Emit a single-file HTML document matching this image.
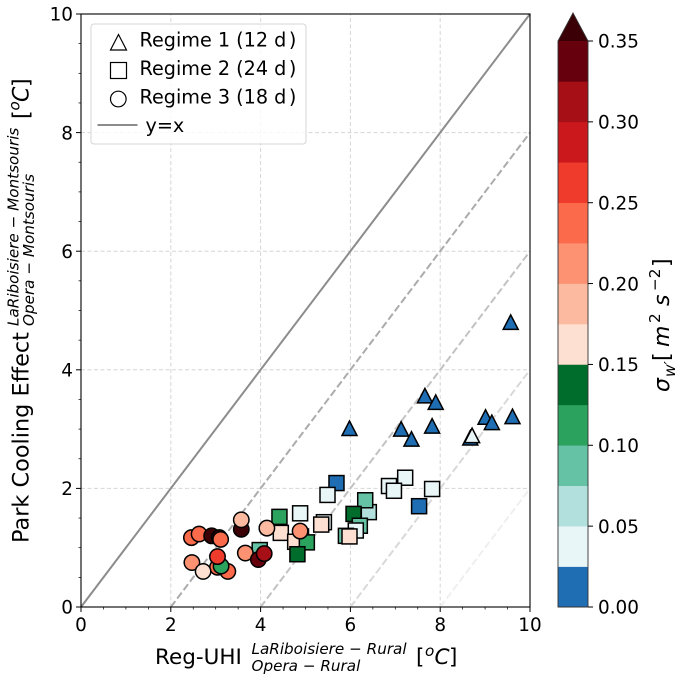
<!DOCTYPE html>
<html lang="en">
<head>
<meta charset="utf-8">
<title>Park Cooling Effect vs Reg-UHI</title>
<style>
html,body{margin:0;padding:0;background:#fff;width:679px;height:681px;overflow:hidden}
svg{display:block}
text{font-family:"DejaVu Sans","Liberation Sans",sans-serif;fill:#000}
.it{font-style:italic}
</style>
</head>
<body>
<svg id="chart" xmlns="http://www.w3.org/2000/svg" width="679" height="681" viewBox="0 0 679 681">
  <rect x="0" y="0" width="679" height="681" fill="#fff"/>
  <g id="grid"></g>
  <g id="refs"></g>
  <g id="marks"></g>
  <rect x="81" y="14" width="449" height="593" fill="none" stroke="#000" stroke-width="1.1"/>
  <g id="ticks"></g>

  <g>
    <rect x="91" y="24" width="215" height="120" rx="3" fill="#fff" fill-opacity="0.8" stroke="#d5d5d5" stroke-width="1"/>
    <polygon points="118.5,34.5 110.5,50 126.5,50" fill="none" stroke="#000" stroke-width="1.2"/>
    <text x="139.5" y="46.5" font-size="19.2">Regime 1 (12 d<tspan dx="2.5">)</tspan></text>
    <rect x="110.5" y="62.5" width="16" height="16" fill="none" stroke="#000" stroke-width="1.2"/>
    <text x="139.5" y="75" font-size="19.2">Regime 2 (24 d<tspan dx="2.5">)</tspan></text>
    <circle cx="118.3" cy="99" r="7.8" fill="none" stroke="#000" stroke-width="1.2"/>
    <text x="139.5" y="103.5" font-size="19.2">Regime 3 (18 d<tspan dx="2.5">)</tspan></text>
    <line x1="97.5" y1="125" x2="137.5" y2="125" stroke="#8c8c8c" stroke-width="2"/>
    <text x="145.5" y="132" font-size="19.2">y=x</text>
  </g>

  <g>
    <text x="155" y="664" font-size="21.5">Reg-UHI</text>
    <text class="it" x="251.5" y="654" font-size="15.2">LaRiboisiere − Rural</text>
    <text class="it" x="251.5" y="671" font-size="15.2">Opera − Rural</text>
    <text x="416" y="664" font-size="21.5">[</text>
    <text class="it" x="425" y="656" font-size="15.2">o</text>
    <text class="it" x="434.5" y="664" font-size="21.5">C</text>
    <text x="449" y="664" font-size="21.5">]</text>
  </g>

  <g>
    <text transform="translate(28.3,543) rotate(-90)" font-size="22.4">Park Cooling Effect</text>
    <text class="it" transform="translate(18.3,326) rotate(-90)" font-size="15.2">LaRiboisiere − Montsouris</text>
    <text class="it" transform="translate(34,326) rotate(-90)" font-size="15.2">Opera − Montsouris</text>
    <text transform="translate(28.3,119) rotate(-90)" font-size="22">[</text>
    <text class="it" transform="translate(19.5,110.5) rotate(-90)" font-size="15.2">o</text>
    <text class="it" transform="translate(28.3,102) rotate(-90)" font-size="22">C</text>
    <text transform="translate(28.3,87) rotate(-90)" font-size="22">]</text>
  </g>

  <g id="colorbar"></g>
  <g>
    <text class="it" transform="translate(669,392) rotate(-90)" font-size="22">σ</text>
    <text class="it" transform="translate(675,377) rotate(-90)" font-size="15.2">w′</text>
    <text transform="translate(669,361) rotate(-90)" font-size="22">[</text>
    <text class="it" transform="translate(669,347) rotate(-90)" font-size="22">m</text>
    <text transform="translate(660,323) rotate(-90)" font-size="15.2">2</text>
    <text class="it" transform="translate(669,306) rotate(-90)" font-size="22">s</text>
    <text transform="translate(660,291) rotate(-90)" font-size="15.2">−2</text>
    <text transform="translate(669,267) rotate(-90)" font-size="22">]</text>
  </g>
</svg>
<script>
// ---- Data ----
var regime1X = [9.57, 7.66, 7.90, 5.98, 7.13, 7.36, 7.82, 9.01, 9.15, 9.61, 8.67, 8.71];
var regime1Y = [4.80, 3.56, 3.45, 3.01, 3.00, 2.83, 3.05, 3.20, 3.11, 3.21, 2.85, 2.89];
var regime1S = [0.01, 0.01, 0.01, 0.01, 0.01, 0.01, 0.01, 0.01, 0.01, 0.01, 0.01, 0.04];

var regime2X = [5.69, 5.49, 6.86, 7.22, 6.97, 7.82, 7.53, 6.41, 6.33, 6.07, 6.21, 6.12, 5.90, 5.98, 5.41, 5.35, 4.88, 4.42, 4.45, 4.90, 4.77, 5.03, 4.82, 3.98];
var regime2Y = [2.09, 1.89, 2.04, 2.18, 1.96, 1.99, 1.70, 1.60, 1.80, 1.57, 1.37, 1.29, 1.20, 1.19, 1.43, 1.39, 1.58, 1.52, 1.25, 1.19, 1.10, 1.09, 0.89, 0.96];
var regime2S = [0.01, 0.04, 0.04, 0.04, 0.04, 0.04, 0.01, 0.06, 0.09, 0.14, 0.09, 0.04, 0.09, 0.16, 0.04, 0.16, 0.04, 0.11, 0.16, 0.09, 0.16, 0.11, 0.14, 0.09];

var regime3X = [2.46, 2.63, 2.91, 3.08, 3.11, 3.57, 3.57, 4.14, 4.88, 3.66, 3.95, 4.08, 3.04, 3.27, 3.12, 3.04, 2.47, 2.72];
var regime3Y = [1.17, 1.23, 1.20, 1.17, 1.14, 1.31, 1.47, 1.33, 1.28, 0.91, 0.80, 0.90, 0.67, 0.60, 0.69, 0.85, 0.75, 0.60];
var regime3S = [0.24, 0.24, 0.37, 0.37, 0.24, 0.37, 0.19, 0.19, 0.21, 0.21, 0.34, 0.31, 0.24, 0.24, 0.11, 0.26, 0.21, 0.16];

var xTickLabels = ["0", "2", "4", "6", "8", "10"];
var yTickLabels = ["0", "2", "4", "6", "8", "10"];
var cbTickLabels = ["0.00", "0.05", "0.10", "0.15", "0.20", "0.25", "0.30", "0.35"];
var lineOffsets = [0, 2, 4, 6, 8];
var cmapColors = ["#1f6eb3", "#e9f6f8", "#b2e0dc", "#66c2a4", "#2ca25f", "#006d2c", "#fee0d2", "#fcbba1", "#fc9272", "#fb6a4a", "#ef3b2c", "#cb181d", "#a50f15", "#67000d"];
var cmapOver = "#3a0005";
var cbStep = 0.025;

// ---- Axis functions ----
var NS = "http://www.w3.org/2000/svg";
function xAxis(v) { return 81 + v * 44.9; }
function yAxis(v) { return 607 - v * 59.3; }
function cbAxis(v) { return 607 - v / 0.35 * 566; }
function colorOf(s) {
  var i = Math.floor(s / cbStep);
  if (i >= cmapColors.length) return cmapOver;
  return cmapColors[Math.max(i, 0)];
}
function make(tag, attrs, parent) {
  var el = document.createElementNS(NS, tag);
  for (var k in attrs) el.setAttribute(k, attrs[k]);
  parent.appendChild(el);
  return el;
}

var grid = document.getElementById("grid");
var refs = document.getElementById("refs");
var marks = document.getElementById("marks");
var ticks = document.getElementById("ticks");
var colorbar = document.getElementById("colorbar");

// Grid
[2, 4, 6, 8].forEach(function (v) {
  var gx = make("line", {x1: xAxis(v), x2: xAxis(v), y1: yAxis(0), y2: yAxis(10), stroke: "#d6d6d6", "stroke-width": 1, "stroke-dasharray": "4 2.5"}, grid);
  
  
  var gy = make("line", {x1: xAxis(0), x2: xAxis(10), y1: yAxis(v), y2: yAxis(v), stroke: "#d6d6d6", "stroke-width": 1, "stroke-dasharray": "4 2.5"}, grid);
  
  
});

// Reference lines y = x - offset
var lineShades = ["#8c8c8c", "#ababab", "#c2c2c2", "#d9d9d9", "#efefef"];
lineOffsets.forEach(function (off, i) {
  var attrs = {x1: xAxis(off), y1: yAxis(0), x2: xAxis(10), y2: yAxis(10 - off), stroke: lineShades[i], "stroke-width": 2};
  if (off !== 0) attrs["stroke-dasharray"] = "7.4 3.2";
  var ln = make("line", attrs, refs);
  
  
});

// Markers
regime1X.forEach(function (x, i) {
  var cx = xAxis(x), cy = yAxis(regime1Y[i]);
  var p = make("polygon", {points: (cx) + "," + (cy - 7.5) + " " + (cx - 7.5) + "," + (cy + 7) + " " + (cx + 7.5) + "," + (cy + 7), fill: colorOf(regime1S[i]), stroke: "#000", "stroke-width": 1.5}, marks);
  
  
});
regime2X.forEach(function (x, i) {
  var cx = xAxis(x), cy = yAxis(regime2Y[i]);
  var p = make("rect", {x: cx - 7.5, y: cy - 7.5, width: 15, height: 15, fill: colorOf(regime2S[i]), stroke: "#000", "stroke-width": 1.5}, marks);
  
  
});
regime3X.forEach(function (x, i) {
  var p = make("circle", {cx: xAxis(x), cy: yAxis(regime3Y[i]), r: 7.7, fill: colorOf(regime3S[i]), stroke: "#000", "stroke-width": 1.5}, marks);
  
  
});

// Ticks
for (var m = 0; m <= 20; m++) {
  var v = m * 0.5, major = m % 4 === 0, len = major ? 5 : 2.5, w = major ? 1 : 0.7;
  var tx = make("line", {x1: xAxis(v), x2: xAxis(v), y1: 607, y2: 607 + len, stroke: "#000", "stroke-width": w}, ticks);
  
  
  var ty = make("line", {x1: 81, x2: 81 - len, y1: yAxis(v), y2: yAxis(v), stroke: "#000", "stroke-width": w}, ticks);
  
  
}
xTickLabels.forEach(function (t) {
  var el = make("text", {x: xAxis(+t), y: 631, "font-size": 18.4, "text-anchor": "middle"}, ticks);
  el.textContent = t;
  
  
});
yTickLabels.forEach(function (t) {
  var el = make("text", {x: 73, y: yAxis(+t) + 6.7, "font-size": 18.4, "text-anchor": "end"}, ticks);
  el.textContent = t;
  
  
});

// Colorbar
cmapColors.forEach(function (c, i) {
  var top = cbAxis((i + 1) * cbStep), bot = cbAxis(i * cbStep);
  var r = make("rect", {x: 558, y: top, width: 30, height: bot - top + 0.3, fill: c}, colorbar);
  
  
});
var over = make("polygon", {points: "558," + cbAxis(0.35) + " 573,13 588," + cbAxis(0.35), fill: cmapOver}, colorbar);


var cbFrame = make("polygon", {points: "558,607 558," + cbAxis(0.35) + " 573,13 588," + cbAxis(0.35) + " 588,607", fill: "none", stroke: "#333", "stroke-width": 0.9}, colorbar);


cbTickLabels.forEach(function (t) {
  var yy = cbAxis(+t);
  var tk = make("line", {x1: 588, x2: 593, y1: yy, y2: yy, stroke: "#000", "stroke-width": 1}, colorbar);
  
  
  var el = make("text", {x: 598, y: yy + 6.7, "font-size": 18.4}, colorbar);
  el.textContent = t;
  
  
});
</script>
</body>
</html>
